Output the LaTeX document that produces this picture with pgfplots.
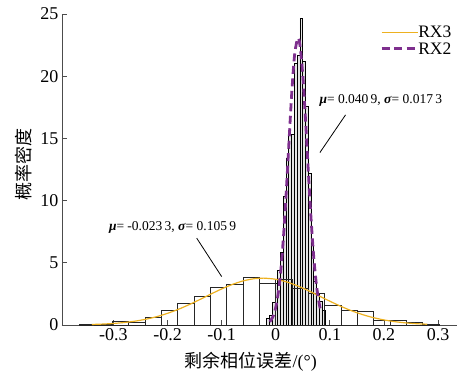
\documentclass[border=0pt]{standalone}
\usepackage{pgfplots}
\pgfplotsset{compat=1.18}
\usepackage{fontspec}
\setmainfont{Liberation Serif}
\newfontfamily\cjk{Noto Sans CJK SC}
\definecolor{rxorange}{RGB}{237,177,32}
\definecolor{rxpurple}{RGB}{126,47,142}
\begin{document}
\begin{tikzpicture}
\useasboundingbox (-62bp,-46bp) rectangle (408bp,325bp);
\begin{axis}[
 scale only axis, width=395bp, height=311bp,
 xmin=-0.395, xmax=0.335, ymin=0, ymax=25,
 axis x line=bottom, axis y line=left,
 axis line style={-, black!70, line width=0.8bp},
 tick align=inside, major tick length=5bp,
 tick style={black!70, line width=0.8bp},
 xtick={-0.3,-0.2,-0.1,0,0.1,0.2,0.3},
 xticklabels={-0.3,-0.2,-0.1,0,0.1,0.2,0.3},
 ytick={0,5,10,15,20,25},
 yticklabels={0,5,10,15,20,25},
 ticklabel style={font=\fontsize{18bp}{20bp}\selectfont},
 xlabel={{\cjk 剩余相位误差}/(°)},
 ylabel={\cjk 概率密度},
 label style={font=\fontsize{18bp}{20bp}\selectfont},
 xlabel style={at={(axis description cs:0.478,-0.119)}, anchor=center},
 ylabel style={at={(axis description cs:-0.096,0.515)}, anchor=center},
 clip=false,
]
% narrow histogram (RX2)
\addplot[ybar interval, draw=black, fill=black!10, line width=0.75bp, forget plot] coordinates {
(-0.0169,0.54) (-0.01177,0.8) (-0.00664,1.8) (-0.00151,3.35) (0.00362,4.4) (0.00875,5.8)
(0.01388,10.3) (0.01901,13.4) (0.02414,15.3) (0.02927,15.3) (0.0344,21.0) (0.03953,21.7)
(0.04466,24.65) (0.04979,21.2) (0.05492,17.6) (0.06005,12.2) (0.06518,6.5) (0.07031,3.5)
(0.07544,2.55) (0.08057,1.9) (0.0857,1.15) (0.09083,1.15)};
% wide histogram (RX3)
\addplot[ybar interval, draw=black!85, fill=none, line width=0.8bp, forget plot] coordinates {
(-0.3625,0.05) (-0.3323,0.05) (-0.3021,0.32) (-0.2719,0.24) (-0.2417,0.62) (-0.2115,1.18)
(-0.1813,1.74) (-0.1511,2.30) (-0.1209,3.00) (-0.0907,3.30) (-0.0605,3.81) (-0.0303,3.32)
(-0.0001,3.70) (0.0301,2.95) (0.0603,2.57) (0.0905,1.55) (0.1207,1.20) (0.1509,1.10)
(0.1811,0.40) (0.2113,0.35) (0.2415,0.21) (0.2717,0.05) (0.3019,0.05)};
% fitted curves
\addplot[color=rxorange, line width=1.2bp, smooth, forget plot] coordinates {
(-0.34,0.043) (-0.32,0.074) (-0.30,0.124) (-0.28,0.200) (-0.26,0.310) (-0.24,0.464)
(-0.22,0.671) (-0.20,0.937) (-0.18,1.261) (-0.16,1.638) (-0.14,2.053) (-0.12,2.483)
(-0.10,2.898) (-0.08,3.264) (-0.06,3.548) (-0.04,3.721) (-0.0233,3.767) (-0.02,3.765)
(0.00,3.677) (0.02,3.465) (0.04,3.151) (0.06,2.765) (0.08,2.341) (0.10,1.913)
(0.12,1.508) (0.14,1.147) (0.16,0.842) (0.18,0.597) (0.20,0.408) (0.22,0.269)
(0.24,0.171) (0.26,0.105) (0.28,0.062)};
\addplot[color=rxpurple, line width=2.8bp, dash pattern=on 8bp off 4.5bp, smooth, forget plot] coordinates {
(-0.011,0.26) (-0.005,0.68) (0.000,1.41) (0.005,2.68) (0.010,4.68) (0.015,7.52)
(0.020,11.12) (0.025,15.12) (0.030,18.91) (0.035,21.76) (0.0409,23.06) (0.045,22.42)
(0.050,20.08) (0.055,16.54) (0.060,12.54) (0.065,8.74) (0.070,5.60) (0.075,3.31)
(0.080,1.79) (0.084,1.04)};
% legend (drawn by hand)
\draw[rxorange, line width=1.2bp] (axis cs:0.1955,23.49) -- (axis cs:0.2631,23.49);
\node[anchor=west, inner sep=0pt, font=\fontsize{17.5bp}{18bp}\selectfont] at (axis cs:0.2631,23.57) {RX3};
\draw[rxpurple, line width=2.8bp, dash pattern=on 8bp off 4.5bp] (axis cs:0.1955,22.25) -- (axis cs:0.2631,22.25);
\node[anchor=west, inner sep=0pt, font=\fontsize{17.5bp}{18bp}\selectfont] at (axis cs:0.2631,22.25) {RX2};
% annotations
\node[font=\fontsize{13.5bp}{15bp}\selectfont] at (axis cs:0.1942,18.02)
  {\textbf{\textit{μ}}= 0.040\,9, \textbf{\textit{σ}}= 0.017\,3};
\draw[black, line width=0.8bp] (axis cs:0.129,16.89) -- (axis cs:0.0816,13.86);
\node[font=\fontsize{13.5bp}{15bp}\selectfont] at (axis cs:-0.1907,7.84)
  {\textbf{\textit{μ}}= -0.023\,3, \textbf{\textit{σ}}= 0.105\,9};
\draw[black, line width=0.8bp] (axis cs:-0.146,6.98) -- (axis cs:-0.0999,3.89);
\end{axis}
\end{tikzpicture}
\end{document}
